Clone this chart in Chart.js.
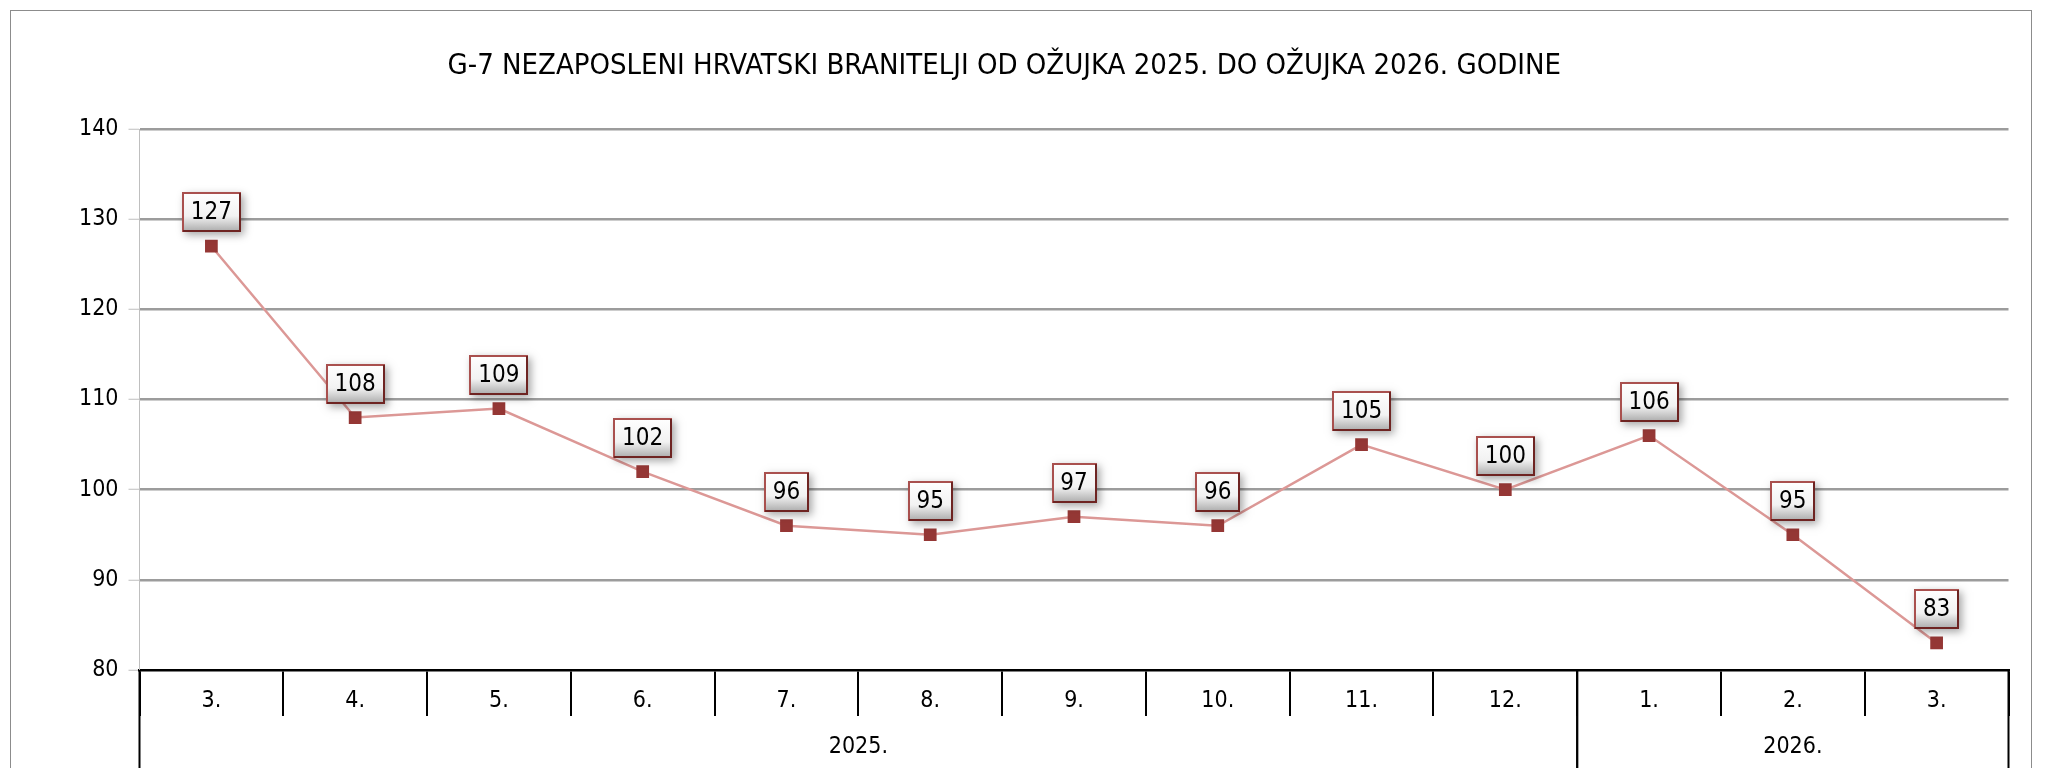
<!DOCTYPE html>
<html>
<head>
<meta charset="utf-8">
<title>G-7 Nezaposleni hrvatski branitelji</title>
<script src="https://cdn.jsdelivr.net/npm/chart.js@4.4.1/dist/chart.umd.min.js"></script>
<style>
    html, body { margin: 0; padding: 0; background: #fff; overflow: hidden; }
    #wrap { position: relative; width: 2045px; height: 768px; }
</style>
</head>
<body>
<div id="wrap"><canvas id="grafikBranitelji"></canvas></div>
<script>
// === 1. PODACI ===
const mjeseci = ['3.', '4.', '5.', '6.', '7.', '8.', '9.', '10.', '11.', '12.', '1.', '2.', '3.'];
const godine = ['2025.', '2026.'];
const mjeseciPoGodini = [10, 3];
const nezaposleni = [127, 108, 109, 102, 96, 95, 97, 96, 105, 100, 106, 95, 83];
const yOznake = [80, 90, 100, 110, 120, 130, 140];
const naslov = 'G-7 NEZAPOSLENI HRVATSKI BRANITELJI OD OŽUJKA 2025. DO OŽUJKA 2026. GODINE';

const FONT = '"Liberation Sans Narrow", "Arial Narrow", "DejaVu Sans Condensed", sans-serif';

// === 2. PLUGINI ===
// okvir oko cijelog grafikona
const okvirPlugin = {
    id: 'okvir',
    beforeDraw(chart) {
        const ctx = chart.ctx;
        ctx.save();
        ctx.strokeStyle = '#8c8c8c';
        ctx.lineWidth = 1;
        ctx.strokeRect(10.5, 10.5, 2021, 1000);
        ctx.restore();
    }
};

// drugi red x osi: godine
const godinePlugin = {
    id: 'godine',
    afterDraw(chart) {
        const ctx = chart.ctx;
        const x = chart.scales.x;
        const half = (x.getPixelForValue(1) - x.getPixelForValue(0)) / 2;
        const top = chart.chartArea.bottom;
        ctx.save();
        ctx.strokeStyle = '#000';
        ctx.lineWidth = 2;
        ctx.fillStyle = '#000';
        ctx.font = '23px ' + FONT;
        ctx.textAlign = 'center';
        ctx.textBaseline = 'middle';
        let start = 0;
        godine.forEach((god, i) => {
            const end = start + mjeseciPoGodini[i] - 1;
            const left = x.getPixelForValue(start) - half;
            const right = x.getPixelForValue(end) + half;
            ctx.beginPath();
            ctx.moveTo(left, top);
            ctx.lineTo(left, 768);
            ctx.moveTo(right, top);
            ctx.lineTo(right, 768);
            ctx.stroke();
            ctx.fillText(god, (left + right) / 2, 747);
            start = end + 1;
        });
        ctx.restore();
    }
};

// oznake vrijednosti u kućicama
const oznakePlugin = {
    id: 'oznake',
    afterDatasetsDraw(chart) {
        const ctx = chart.ctx;
        const meta = chart.getDatasetMeta(0);
        ctx.save();
        ctx.font = '24px ' + FONT;
        meta.data.forEach((pt, i) => {
            const txt = String(nezaposleni[i]);
            const w = Math.round(ctx.measureText(txt).width + 18);
            const h = 40;
            const cx = pt.x, cy = pt.y - 34;
            const x0 = Math.round(cx - w / 2), y0 = Math.round(cy - h / 2);

            // sjena
            ctx.save();
            ctx.shadowColor = 'rgba(0,0,0,0.35)';
            ctx.shadowBlur = 8;
            ctx.shadowOffsetX = 3;
            ctx.shadowOffsetY = 3;
            ctx.fillStyle = '#fff';
            ctx.fillRect(x0, y0, w, h);
            ctx.restore();

            // ispuna
            const g = ctx.createLinearGradient(0, y0, 0, y0 + h);
            g.addColorStop(0, '#ffffff');
            g.addColorStop(0.6, '#f2f2f2');
            g.addColorStop(1, '#a9a9a9');
            ctx.fillStyle = g;
            ctx.fillRect(x0, y0, w, h);

            // rub
            ctx.lineWidth = 2;
            ctx.strokeStyle = '#a9504e';
            ctx.strokeRect(x0 + 1, y0 + 1, w - 2, h - 2);
            ctx.strokeStyle = '#6e2422';
            ctx.beginPath();
            ctx.moveTo(x0 + w - 1, y0 + 1);
            ctx.lineTo(x0 + w - 1, y0 + h - 1);
            ctx.lineTo(x0 + 1, y0 + h - 1);
            ctx.stroke();

            ctx.fillStyle = '#000';
            ctx.textAlign = 'center';
            ctx.textBaseline = 'middle';
            ctx.fillText(txt, cx, cy + 1);
        });
        ctx.restore();
    }
};

// === 3. GRAFIKON ===
const canvas = document.getElementById('grafikBranitelji');
new Chart(canvas, {
    type: 'line',
    data: {
        labels: mjeseci,
        datasets: [{
            data: nezaposleni,
            borderColor: '#dc9896',
            borderWidth: 2.5,
            tension: 0,
            pointStyle: 'rect',
            pointRadius: 9,
            pointBorderWidth: 0,
            pointBackgroundColor: '#953735',
            pointBorderColor: '#953735'
        }]
    },
    options: {
        responsive: true,
        maintainAspectRatio: false,
        animation: false,
        layout: { padding: { left: 0, right: 36.5, top: 0, bottom: 0 } },
        plugins: {
            legend: { display: false },
            tooltip: { enabled: false },
            title: {
                display: true,
                text: naslov,
                color: '#000',
                font: { family: FONT, size: 29, weight: 'normal', lineHeight: 1.2 },
                padding: { top: 48.6, bottom: 45.6 }
            }
        },
        scales: {
            x: {
                offset: true,
                afterFit: (s) => { s.height = 98; },
                border: { color: '#000', width: 2.5 },
                grid: {
                    offset: true,
                    drawOnChartArea: false,
                    color: '#000',
                    lineWidth: 2,
                    tickLength: 46
                },
                ticks: {
                    color: '#000',
                    padding: -29,
                    maxRotation: 0,
                    autoSkip: false,
                    font: { family: FONT, size: 23 }
                }
            },
            y: {
                min: yOznake[0],
                max: yOznake[yOznake.length - 1],
                afterFit: (s) => { s.width = 139.5; },
                afterBuildTicks: (s) => { s.ticks = yOznake.map(v => ({ value: v })); },
                border: { color: '#bfbfbf', width: 1 },
                grid: {
                    color: (c) => c.tick && c.tick.value === yOznake[0] ? 'rgba(0,0,0,0)' : '#9c9c9c',
                    lineWidth: 2.5,
                    tickColor: '#bfbfbf',
                    tickWidth: 1,
                    tickLength: 11
                },
                ticks: {
                    color: '#000',
                    padding: 10,
                    font: { family: FONT, size: 23 }
                }
            }
        }
    },
    plugins: [okvirPlugin, oznakePlugin, godinePlugin]
});
</script>
</body>
</html>
